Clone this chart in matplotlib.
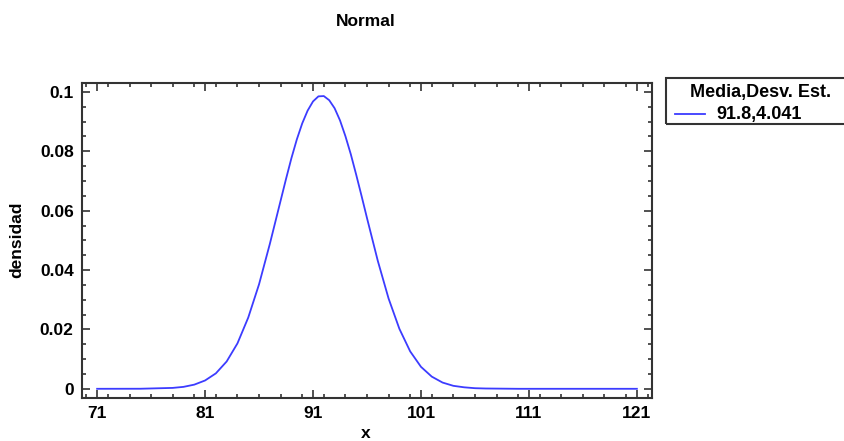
import numpy as np
import matplotlib
matplotlib.use('Agg')
import matplotlib.pyplot as plt
from matplotlib.ticker import MultipleLocator
from matplotlib.patches import Rectangle
from matplotlib.lines import Line2D

plt.rcParams['font.family'] = ['Liberation Sans', 'DejaVu Sans']
plt.rcParams['font.weight'] = 'bold'

# Density values
x_vals = [71, 75, 78, 79, 80, 81, 82, 83, 84, 85, 86, 87, 88, 88.5, 89, 89.5,
          90, 90.5, 91, 91.5, 92, 92.5, 93, 93.5, 94, 94.5, 95, 95.5, 96, 97,
          98, 99, 100, 101, 102, 103, 104, 105, 106, 107, 110, 121]
dens = [0.0, 0.00002, 0.0003, 0.00065, 0.0014, 0.0028, 0.0052, 0.0092, 0.0153,
        0.0240, 0.0352, 0.0488, 0.0634, 0.0707, 0.0777, 0.0840,
        0.0894, 0.0937, 0.0968, 0.0985, 0.0986, 0.0972, 0.0945, 0.0904, 0.0851,
        0.0790, 0.0721, 0.0649, 0.0575, 0.0431,
        0.0304, 0.0202, 0.0126, 0.0074, 0.0041, 0.0021, 0.0010, 0.0005, 0.0002,
        0.0001, 0.0, 0.0]
series_label = '91.8,4.041'
legend_title = 'Media,Desv. Est.'
x_ticks = [71, 81, 91, 101, 111, 121]
y_ticks = [0, 0.02, 0.04, 0.06, 0.08, 0.1]
y_tick_labels = ['0', '0.02', '0.04', '0.06', '0.08', '0.1']

W, H = 845, 441
fig = plt.figure(figsize=(W / 100, H / 100), dpi=100)
ax = fig.add_axes([82/W, 1 - 398/H, (652-82)/W, (398-83)/H])

line_color = '#3c3cff'
ax.plot(x_vals, dens, color=line_color, lw=1.3)

ax.set_xlim(69.6, 122.4)
ax.set_ylim(-0.0031, 0.103)
ax.set_xticks(x_ticks)
ax.set_yticks(y_ticks)
ax.set_yticklabels(y_tick_labels)
ax.xaxis.set_minor_locator(MultipleLocator(2))
ax.yaxis.set_minor_locator(MultipleLocator(0.005))
ax.tick_params(which='both', direction='in', top=True, right=True,
               labelsize=12.5, colors='#333333', labelcolor='black', width=1.2,
               pad=6)
ax.tick_params(which='major', length=6)
ax.tick_params(which='minor', length=3)
for sp in ax.spines.values():
    sp.set_linewidth(1.5)
    sp.set_color('#333333')

fig.text(366/W, 1 - 22/H, 'Normal', ha='center', va='center',
         fontsize=12.5, fontweight='bold')
fig.text(17/W, 1 - 240/H, 'densidad', ha='center', va='center',
         rotation=90, fontsize=12.5, fontweight='bold')
fig.text(366/W, 1 - 433/H, 'x', ha='center', va='center',
         fontsize=12.5, fontweight='bold')

# legend box, runs off the right edge as in the original
fig.patches.append(Rectangle((666/W, 1 - 124/H), 220/W, 46/H,
                             transform=fig.transFigure, fill=False,
                             edgecolor='#333333', lw=1.5, clip_on=False))
fig.text(690/W, 1 - 92/H, legend_title, ha='left', va='center',
         fontsize=13, fontweight='bold')
fig.lines.append(Line2D([675/W, 705/W], [1 - 114/H, 1 - 114/H],
                        transform=fig.transFigure, color=line_color, lw=1.3))
fig.text(716/W, 1 - 114/H, series_label, ha='left', va='center',
         fontsize=13, fontweight='bold')

fig.savefig('out.png', dpi=100)
